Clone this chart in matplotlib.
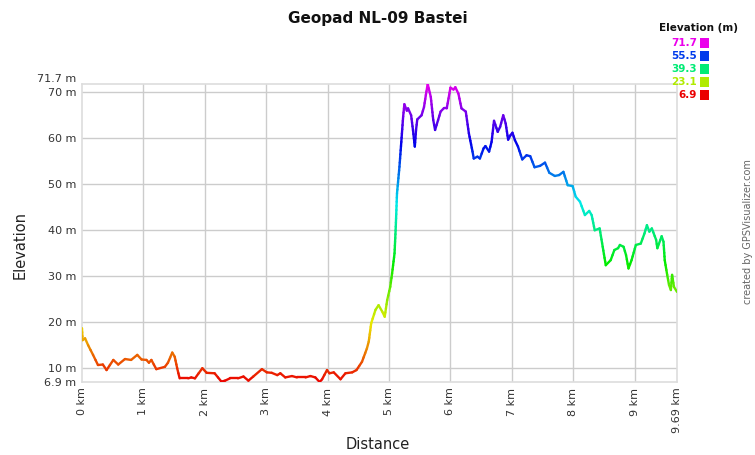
import numpy as np
import matplotlib
matplotlib.use("Agg")
from matplotlib import pyplot as plt
from matplotlib.collections import LineCollection
from matplotlib.colors import hsv_to_rgb

# Track profile (distance in km, elevation in m)
dist_km = [0.00, 0.01, 0.05, 0.10, 0.18, 0.26, 0.34, 0.40, 0.51, 0.59,
           0.70, 0.80, 0.90, 0.97, 1.05, 1.09, 1.13, 1.21, 1.35, 1.40,
           1.47, 1.51, 1.55, 1.59, 1.73, 1.78, 1.84, 1.96, 2.03, 2.16,
           2.27, 2.33, 2.41, 2.54, 2.63, 2.71, 2.79, 2.93, 3.01, 3.09,
           3.18, 3.23, 3.31, 3.42, 3.50, 3.64, 3.72, 3.80, 3.87, 3.91,
           3.99, 4.03, 4.10, 4.21, 4.29, 4.40, 4.47, 4.56, 4.64, 4.67,
           4.71, 4.78, 4.83, 4.89, 4.93, 4.97, 5.02, 5.05, 5.09, 5.11,
           5.13, 5.17, 5.20, 5.23, 5.25, 5.29, 5.31, 5.36, 5.39, 5.42,
           5.44, 5.46, 5.53, 5.57, 5.60, 5.63, 5.68, 5.72, 5.75, 5.80,
           5.84, 5.89, 5.94, 5.97, 6.00, 6.05, 6.08, 6.13, 6.18, 6.25,
           6.30, 6.36, 6.38, 6.44, 6.48, 6.54, 6.57, 6.63, 6.67, 6.71,
           6.77, 6.81, 6.86, 6.90, 6.94, 6.98, 7.01, 7.05, 7.10, 7.17,
           7.24, 7.30, 7.37, 7.46, 7.54, 7.61, 7.70, 7.77, 7.84, 7.91,
           7.99, 8.04, 8.11, 8.19, 8.26, 8.30, 8.35, 8.43, 8.48, 8.53,
           8.61, 8.67, 8.73, 8.76, 8.82, 8.86, 8.90, 8.95, 9.02, 9.10,
           9.16, 9.20, 9.24, 9.28, 9.35, 9.37, 9.44, 9.47, 9.49, 9.53,
           9.56, 9.59, 9.61, 9.64, 9.69]
elev_m = [18.6, 16.0, 16.4, 14.9, 12.8, 10.6, 10.7, 9.5, 11.7, 10.7,
          11.9, 11.7, 12.8, 11.8, 11.7, 11.1, 11.7, 9.7, 10.2, 11.1,
          13.3, 12.4, 9.9, 7.7, 7.7, 7.9, 7.7, 9.9, 8.9, 8.8,
          7.0, 7.2, 7.7, 7.7, 8.1, 7.2, 8.1, 9.7, 9.0, 8.9,
          8.4, 8.8, 7.9, 8.2, 7.9, 7.9, 8.2, 7.9, 6.9, 7.5,
          9.5, 8.8, 9.0, 7.5, 8.8, 9.0, 9.5, 11.3, 14.2, 15.7,
          19.7, 22.6, 23.6, 22.2, 21.1, 24.7, 27.6, 30.5, 34.9, 40.7,
          47.9, 53.7, 59.1, 64.6, 67.3, 65.9, 66.4, 64.9, 61.7, 58.1,
          61.7, 64.0, 64.9, 66.7, 69.3, 71.7, 68.9, 63.9, 61.7, 63.9,
          65.7, 66.4, 66.4, 68.6, 70.9, 70.5, 71.0, 69.6, 66.4, 65.7,
          61.0, 57.0, 55.5, 55.9, 55.5, 57.7, 58.2, 57.0, 59.1, 63.7,
          61.3, 62.4, 64.9, 63.1, 59.6, 60.6, 61.1, 59.5, 58.1, 55.3,
          56.2, 56.0, 53.6, 53.9, 54.6, 52.4, 51.7, 51.9, 52.6, 49.7,
          49.5, 47.2, 46.1, 43.2, 44.1, 43.2, 39.9, 40.3, 36.3, 32.3,
          33.4, 35.6, 36.0, 36.7, 36.3, 34.5, 31.6, 33.4, 36.7, 37.0,
          39.2, 41.0, 39.6, 40.3, 37.8, 36.0, 38.6, 37.4, 33.4, 30.2,
          28.0, 26.9, 30.2, 27.6, 26.5]

title = "Geopad NL-09 Bastei"
elev_min, elev_max = 6.9, 71.7
total_km = 9.69
legend_values = [71.7, 55.5, 39.3, 23.1, 6.9]
y_ticks = [10, 20, 30, 40, 50, 60, 70]
x_ticks = [0, 1, 2, 3, 4, 5, 6, 7, 8, 9]


def elev_color(e):
    # red (low) -> magenta (high), like GPS Visualizer's altitude colouring
    frac = (e - elev_min) / (elev_max - elev_min)
    frac = min(max(frac, 0.0), 1.0)
    return hsv_to_rgb((frac * 300.0 / 360.0, 1.0, 0.92))


fig = plt.figure(figsize=(7.55, 4.55), dpi=100)
ax = fig.add_axes([0.1086, 0.1604, 0.7881, 0.655])

# split every leg into short pieces so the colour ramps smoothly on steep parts
x = np.array(dist_km)
y = np.array(elev_m)
segs, seg_colors = [], []
for i in range(len(x) - 1):
    n = max(1, int(abs(y[i + 1] - y[i]) / 0.8))
    xs = np.linspace(x[i], x[i + 1], n + 1)
    ys = np.linspace(y[i], y[i + 1], n + 1)
    for j in range(n):
        segs.append([(xs[j], ys[j]), (xs[j + 1], ys[j + 1])])
        seg_colors.append(elev_color((ys[j] + ys[j + 1]) / 2))
lc = LineCollection(segs, colors=seg_colors, linewidths=1.7,
                    capstyle="round", joinstyle="round", zorder=3)
ax.add_collection(lc)

ax.set_xlim(0, total_km)
ax.set_ylim(elev_min, elev_max)

# ticks and grid
ax.set_yticks([elev_min] + y_ticks + [elev_max])
ax.set_yticklabels(["6.9 m"] + [f"{v} m" for v in y_ticks] + ["71.7 m"])
ax.set_xticks(x_ticks + [total_km])
ax.set_xticklabels([f"{v} km" for v in x_ticks] + ["9.69 km"], rotation=90)
ax.tick_params(length=0, labelsize=8, colors="#333333", pad=4)
ax.get_yticklabels()[-1].set_verticalalignment("bottom")

for v in y_ticks:
    ax.axhline(v, color="#cccccc", lw=1, zorder=1)
for v in x_ticks[1:]:
    ax.axvline(v, color="#cccccc", lw=1, zorder=1)
for s in ax.spines.values():
    s.set_color("#dddddd")
    s.set_linewidth(1.2)

fig.text(0.5, 0.022, "Distance", ha="center", va="center", fontsize=10.5,
         color="#222222")
fig.text(0.027, 0.4615, "Elevation", ha="center", va="center", rotation=90,
         fontsize=10.5, color="#222222")
fig.text(0.5, 0.96, title, ha="center", va="center", fontsize=11,
         fontweight="bold", color="#111111")

# colour key, top right
fig.text(0.978, 0.938, "Elevation (m)", ha="right", va="center",
         fontsize=7.5, fontweight="bold", color="#111111")
for i, v in enumerate(legend_values):
    yy = 0.905 - i * 0.0285
    c = elev_color(v)
    fig.text(0.923, yy, f"{v}", ha="right", va="center", fontsize=7.5,
             fontweight="bold", color=c)
    fig.patches.append(plt.Rectangle((0.927, yy - 0.011), 0.0125, 0.022,
                                     transform=fig.transFigure,
                                     facecolor=c, edgecolor="none"))

fig.text(0.991, 0.49, "created by GPSVisualizer.com", rotation=90,
         ha="center", va="center", fontsize=7, color="#666666")

fig.savefig("out.png", dpi=100)
